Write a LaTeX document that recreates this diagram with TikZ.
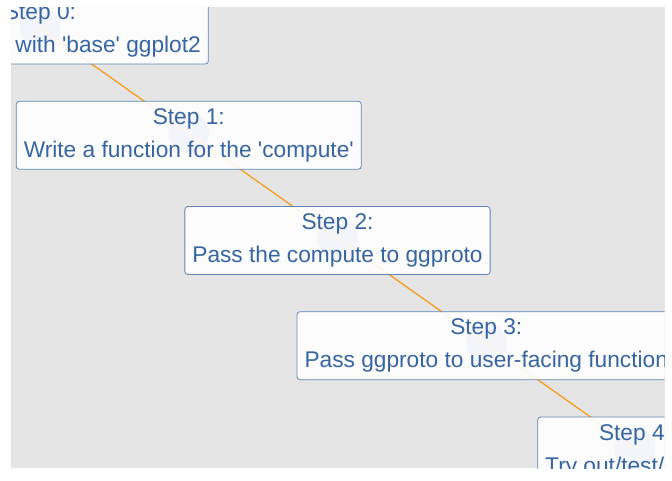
\documentclass[tikz,border=0pt]{standalone}
\usepackage{fontspec}
\newfontfamily\labfont{Liberation Sans}
\definecolor{panelgray}{RGB}{229,229,229}
\definecolor{txtblue}{RGB}{54,102,162}
\definecolor{edgeblue}{RGB}{95,133,185}
\definecolor{lineorange}{RGB}{245,160,40}
\definecolor{dotblue}{RGB}{140,160,210}
\tikzset{
  stepbox/.style={draw=edgeblue, line width=0.8pt, rounded corners=3pt,
    fill=white, fill opacity=0.9, text opacity=1, draw opacity=1, text=txtblue,
    align=center, font=\labfont\fontsize{22.7}{33}\selectfont,
    inner xsep=7.5pt, inner ysep=0pt, minimum height=68pt},
  dotfill/.style={fill=dotblue},
  link/.style={draw=lineorange, line width=1.4pt}
}
\begin{document}
\begin{tikzpicture}[x=1pt,y=-1pt]
\useasboundingbox (0,0) rectangle (672,480);
\fill[white] (0,0) rectangle (672,480);
\fill[panelgray] (11,7) rectangle (664.5,468.3);
\begin{scope}
\clip (11,7) rectangle (664.5,468.3);
\coordinate (p0) at (40,27.5);
\coordinate (p1) at (188.75,132.75);
\coordinate (p2) at (337.5,238);
\coordinate (p3) at (486.25,343.25);
\coordinate (p4) at (635,448.5);
\foreach \p in {p0,p1,p2,p3,p4} {\fill[dotfill] (\p) circle[radius=20.5pt];}
\draw[link] (p0) -- (p1) -- (p2) -- (p3) -- (p4);
\node[stepbox] (s0) at (40,30) {Step 0:\\Get job done with 'base' ggplot2};
\node[stepbox] (s1) at (188.75,135.25) {Step 1:\\Write a function for the 'compute'};
\node[stepbox] (s2) at (337.5,240.5) {Step 2:\\Pass the compute to ggproto};
\node[stepbox] (s3) at (486.25,345.75) {Step 3:\\Pass ggproto to user-facing function};
\node[stepbox] (s4) at (635,451) {Step 4:\\Try out/test/enjoy!};
\end{scope}
\end{tikzpicture}
\end{document}
